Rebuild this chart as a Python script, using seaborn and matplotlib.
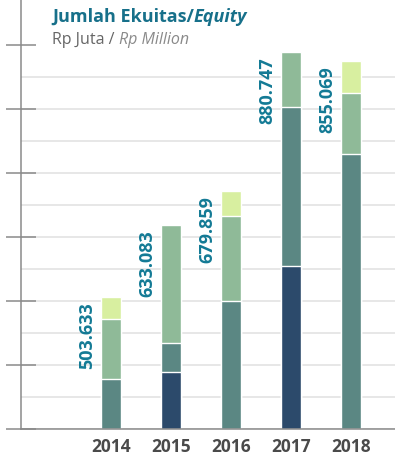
import pandas as pd
import seaborn as sns
import matplotlib.pyplot as plt

sns.set_theme(style="white")
plt.rcParams["font.family"] = ["Open Sans", "DejaVu Sans"]

# === Data (segment heights in chart units) ===
years = ["2014", "2015", "2016", "2017", "2018"]
seg_navy = [0, 179, 0, 509, 0]
seg_teal = [156, 90, 400, 497, 859]
seg_sage = [188, 369, 266, 171, 191]
seg_light = [69, 0, 78, 0, 100]
total_labels = ["503.633", "633.083", "679.859", "880.747", "855.069"]

colors = ["#2c4a6b", "#5b8783", "#8fba98", "#d8efa0"]
layers = [seg_navy, seg_teal, seg_sage, seg_light]

# cumulative tops, drawn from the top layer down so lower ones cover
df = pd.DataFrame({"year": years})
cum = [0] * len(years)
cum_cols = []
for k, seg in enumerate(layers):
    cum = [c + s for c, s in zip(cum, seg)]
    df[f"c{k}"] = cum
    cum_cols.append(f"c{k}")

# === Figure ===
fig = plt.figure(figsize=(3.95, 4.56), dpi=100)
ax = fig.add_axes([21 / 395, 26 / 456, 374 / 395, 430 / 456])

for k in reversed(range(len(layers))):
    sns.barplot(data=df, x="year", y=cum_cols[k], color=colors[k],
                saturation=1, width=1 / 3, ax=ax, zorder=3)

ax.set_xlim(-1.5, 4.733)
ax.set_ylim(0, 1344)
ax.set_xlabel("")
ax.set_ylabel("")

# grid + ticks
ax.set_yticks(range(0, 1201, 200))
ax.set_yticks(range(100, 1200, 200), minor=True)
ax.set_yticklabels([])
ax.yaxis.grid(True, which="both", color="#e0e0e0", lw=1.1, zorder=0)
ax.get_ygridlines()[-1].set_visible(False)
ax.tick_params(axis="y", which="major", direction="inout", length=21,
               width=1.1, color="#8a8a8a", left=True)
ax.tick_params(axis="y", which="minor", length=0)
ax.tick_params(axis="x", length=0, pad=6)
for lab in ax.get_xticklabels():
    lab.set_fontweight("bold")
    lab.set_fontsize(12.5)
    lab.set_color("#4a4a4a")

for side in ["top", "right"]:
    ax.spines[side].set_visible(False)
for side in ["left", "bottom"]:
    ax.spines[side].set_color("#8a8a8a")
    ax.spines[side].set_linewidth(1.1)
ax.spines["bottom"].set_zorder(4)

# value labels
for i, lab in enumerate(total_labels):
    ax.annotate(lab, (i, df[cum_cols[-1]][i]), xytext=(-24, -4),
                textcoords="offset pixels", rotation=90, ha="center",
                va="top", fontsize=13, fontweight="bold", color="#137a95")

# === Title ===
t1 = fig.text(52 / 395, 1 - 22 / 456, "Jumlah Ekuitas/", fontsize=13,
              fontweight="bold", color="#17708a", va="baseline")
s1 = fig.text(52 / 395, 1 - 44 / 456, "Rp Juta / ", fontsize=11.5,
              color="#666666", va="baseline")
fig.canvas.draw()
r = fig.canvas.get_renderer()
bb1 = t1.get_window_extent(r)
bb2 = s1.get_window_extent(r)
fig.text(bb1.x1 / 395, 1 - 22 / 456, "Equity", fontsize=13, fontweight="bold",
         style="italic", color="#17708a", va="baseline")
fig.text(bb2.x1 / 395, 1 - 44 / 456, "Rp Million", fontsize=11.5,
         style="italic", color="#8a8a8a", va="baseline")

plt.savefig("out.png", dpi=100)
